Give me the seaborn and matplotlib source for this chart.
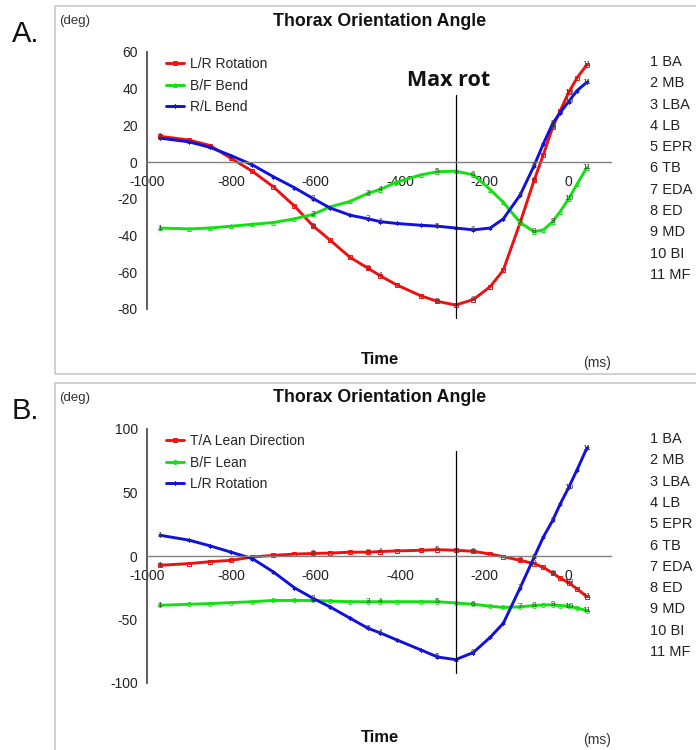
import pandas as pd
import seaborn as sns
from matplotlib import pyplot as plt
from matplotlib.patches import Rectangle

# time grid (ms) shared by all traces
time_ms = [-968, -900, -850, -800, -750, -700, -650, -605, -566, -518, -475,
           -447, -408, -350, -311, -268, -226, -186, -155, -115, -82, -60,
           -38, -20, 0, 20, 43]
# index into time_ms where each swing event falls (1 BA ... 11 MF)
event_idx = [0, 7, 10, 11, 14, 16, 19, 20, 22, 24, 26]
event_names = ["BA", "MB", "LBA", "LB", "EPR", "TB", "EDA", "ED", "MD", "BI", "MF"]

# panel A
a_lr_rotation = [14, 12, 9, 2, -5, -13.5, -24, -35, -42.5, -52, -58,
                 -62, -67, -73, -76, -78, -75, -68, -59, -33, -10, 4,
                 19, 28, 38, 46, 53]
a_bf_bend = [-36, -36.5, -36, -35, -34, -33, -31, -28.5, -24.5, -21.5, -17,
             -15, -11, -7, -5.3, -5, -7, -15, -22, -33, -38, -37,
             -32.5, -27, -20, -12, -3]
a_rl_bend = [13, 11, 8, 3.5, -1.5, -8, -14, -20, -25, -29, -31,
             -32.5, -33.5, -34.5, -35, -36, -37, -36, -31, -18, -2, 10,
             21, 27, 33, 39, 43.5]

# panel B
b_ta_lean_dir = [-7.3, -6, -4.5, -3.4, -0.8, 0.5, 1.5, 2, 2.3, 3, 3,
                 3.5, 4, 4.5, 5, 4.5, 3.7, 1.5, -0.5, -3.4, -6, -9,
                 -13.5, -17.5, -21, -26, -32]
b_bf_lean = [-38.8, -38, -37.5, -36.7, -36, -35, -35, -35, -35.5, -36, -36,
             -36, -36, -36, -36, -37, -38, -39.5, -40.5, -40, -39, -38.5,
             -38.5, -39, -39.5, -41, -43]
b_lr_rotation = [16.3, 12.5, 8, 3, -2, -12.5, -25, -33.5, -40, -49, -57,
                 -60.5, -66, -74, -79.5, -81.6, -76, -64, -53, -25, -1, 15,
                 28, 41, 54, 68, 85]

max_rot_ms = -268
max_rot_span_a = [36.5, -85]
max_rot_span_b = [83, -92]

RED, GREEN, BLUE = "#ee1111", "#11e011", "#1111dd"
W, H = 696, 750


def px(x, y):
    return x / W, 1 - y / H


def draw_panel(ax, series, ylim, yticks, max_span, legend_top):
    for name, vals, color, marker in series:
        df = pd.DataFrame({"t": time_ms, "v": vals})
        sns.lineplot(data=df, x="t", y="v", ax=ax, color=color, lw=2.1,
                     marker=marker, markersize=2.8, mfc="none", mec=color,
                     mew=0.7, label=name, sort=False)
        for i, k in enumerate(event_idx):
            ax.text(time_ms[k], vals[k], str(i + 1), fontsize=6,
                    color="#404040", ha="center", va="center", clip_on=False)
    ax.set_xlim(-1000, 100)
    ax.set_ylim(*ylim)
    ax.set_xticks([-1000, -800, -600, -400, -200, 0])
    ax.set_yticks(yticks)
    ax.set_xlabel("")
    ax.set_ylabel("")
    ax.spines["top"].set_visible(False)
    ax.spines["right"].set_visible(False)
    ax.spines["bottom"].set_position(("data", 0))
    ax.spines["bottom"].set_color("#808080")
    ax.spines["bottom"].set_linewidth(1.0)
    ax.spines["left"].set_color("#505050")
    ax.spines["left"].set_linewidth(1.3)
    ax.tick_params(axis="x", direction="out", length=3.5, width=1.0,
                   color="#808080", pad=6, labelsize=10, labelcolor="#222222")
    ax.tick_params(axis="y", direction="out", length=3.5, width=1.3,
                   color="#505050", pad=3, labelsize=10, labelcolor="#222222")
    ax.plot([max_rot_ms, max_rot_ms], max_span, color="black", lw=0.9,
            clip_on=False)
    ax.legend(loc="upper left", bbox_to_anchor=px(166, legend_top),
              bbox_transform=fig.transFigure, frameon=False, fontsize=10,
              handlelength=1.3, handletextpad=0.4, labelspacing=0.55,
              borderpad=0, borderaxespad=0)


sns.set_style("white")
plt.rcParams["font.family"] = ["Liberation Sans", "DejaVu Sans"]
plt.rcParams["axes.unicode_minus"] = False

fig = plt.figure(figsize=(W / 100, H / 100), dpi=100)

axA = fig.add_axes([146.7 / W, 1 - 308.7 / H, 464.2 / W, 256.7 / H])
draw_panel(axA,
           [("L/R Rotation", a_lr_rotation, RED, "s"),
            ("B/F Bend", a_bf_bend, GREEN, "^"),
            ("R/L Bend", a_rl_bend, BLUE, (6, 2, 0))],
           (-80, 60), [60, 40, 20, 0, -20, -40, -60, -80], max_rot_span_a, 57)

axB = fig.add_axes([146.7 / W, 1 - 683 / H, 464.2 / W, 254 / H])
draw_panel(axB,
           [("T/A Lean Direction", b_ta_lean_dir, RED, "s"),
            ("B/F Lean", b_bf_lean, GREEN, "o"),
            ("L/R Rotation", b_lr_rotation, BLUE, (6, 2, 0))],
           (-100, 100), [100, 50, 0, -50, -100], max_rot_span_b, 434)

# panel frames, letters and captions
for top, bottom, letter, ytop in [(6, 374, "A.", 0), (383, 760, "B.", 377)]:
    fig.add_artist(Rectangle(px(55, bottom), (710 - 55) / W, (bottom - top) / H,
                             transform=fig.transFigure, fill=False,
                             edgecolor="#c8c8c8", lw=1.2))
    fig.text(*px(12, ytop + 34), letter, fontsize=21, ha="left", va="center",
             color="#111111")
    fig.text(*px(59, ytop + 21), "(deg)", fontsize=9.5, ha="left", va="center",
             color="#333333")
    fig.text(*px(380, ytop + 21), "Thorax Orientation Angle", fontsize=12.8,
             fontweight="bold", ha="center", va="center", color="#111111")
    fig.text(*px(380, ytop + 360), "Time", fontsize=12, fontweight="bold",
             ha="center", va="center", color="#111111")
    fig.text(*px(597, ytop + 363), "(ms)", fontsize=10, ha="center",
             va="center", color="#333333")
    for i, name in enumerate(event_names):
        fig.text(*px(650, ytop + 62 + i * 21.3), "{} {}".format(i + 1, name),
                 fontsize=10.5, ha="left", va="center", color="#222222")

fig.text(*px(449, 80), "Max rot", fontsize=15.5, fontweight="bold",
         family=["Open Sans", "DejaVu Sans"], ha="center", va="center",
         color="#111111")

plt.savefig("out.png", dpi=100)
